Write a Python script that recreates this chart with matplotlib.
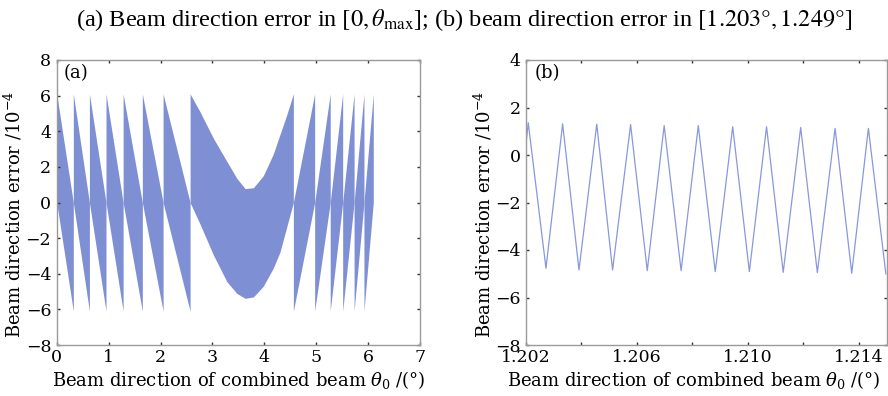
import matplotlib
matplotlib.use("Agg")
import matplotlib.pyplot as plt

plt.rcParams['font.family'] = ['DejaVu Serif']
plt.rcParams['mathtext.fontset'] = 'dejavuserif'

# ---- Panel (a): envelope of the dense error band (units of 1e-4) ----
# Each group: x points, upper envelope, lower envelope
a_seg_x = [
    [0.0, 0.32], [0.32, 0.63], [0.63, 0.95], [0.95, 1.28], [1.28, 1.65],
    [1.65, 2.05], [2.05, 2.57],
    [2.57, 2.76, 3.02, 3.28, 3.47, 3.63, 3.79, 3.98, 4.17, 4.30, 4.43, 4.56],
    [4.56, 4.97], [4.97, 5.27], [5.27, 5.51], [5.51, 5.73], [5.73, 5.92], [5.92, 6.10],
]
a_seg_upper = [
    [6.1, 0.0], [6.1, 0.0], [6.1, 0.0], [6.1, 0.0], [6.1, 0.0],
    [6.1, 0.0], [6.1, 0.0],
    [6.1, 5.1, 3.6, 2.3, 1.36, 0.78, 0.83, 1.5, 2.7, 3.8, 4.9, 6.1],
    [0.0, 6.1], [0.0, 6.1], [0.0, 6.1], [0.0, 6.1], [0.0, 6.1], [0.0, 6.1],
]
a_seg_lower = [
    [0.0, -6.1], [0.0, -6.1], [0.0, -6.1], [0.0, -6.1], [0.0, -6.1],
    [0.0, -6.1], [0.0, -6.1],
    [0.0, -1.2, -2.95, -4.45, -5.1, -5.38, -5.3, -4.7, -3.7, -2.8, -1.4, 0.0],
    [-6.1, 0.0], [-6.1, 0.0], [-6.1, 0.0], [-6.1, 0.0], [-6.1, 0.0], [-6.1, 0.0],
]

# ---- Panel (b): zig-zag error (units of 1e-4) ----
b_x = [1.20200, 1.20208, 1.20272, 1.20332, 1.20391, 1.20455, 1.20512, 1.20577,
       1.20637, 1.20698, 1.20759, 1.20821, 1.20882, 1.20945, 1.21005, 1.21067,
       1.21127, 1.21190, 1.21250, 1.21314, 1.21374, 1.21434, 1.21497]
b_y = [0.45, 1.36, -4.77, 1.31, -4.84, 1.30, -4.84, 1.28, -4.87, 1.24, -4.87,
       1.24, -4.91, 1.19, -4.91, 1.19, -4.94, 1.16, -4.95, 1.12, -4.98, 1.12, -5.01]

a_xticks = [0, 1, 2, 3, 4, 5, 6, 7]
a_yticks = [-8, -6, -4, -2, 0, 2, 4, 6, 8]
b_xticks = [1.202, 1.204, 1.206, 1.208, 1.210, 1.212, 1.214]
b_xticklabels = ['1.202', '', '1.206', '', '1.210', '', '1.214']
b_yticks = [-8, -6, -4, -2, 0, 2, 4]

title = (r"(a) Beam direction error in $\left[0,\theta_{\rm max}\right]$; "
         r"(b) beam direction error in $\left[1.203°,1.249°\right]$")
ylab = r"Beam direction error /10$^{-4}$"
xlab = r"Beam direction of combined beam $\theta_0$ /(°)"

fig = plt.figure(figsize=(8.88, 3.96), dpi=100)
W, H = 888, 396
axa = fig.add_axes([56.7 / W, 1 - 345 / H, (420 - 56.7) / W, (345 - 60) / H])
axb = fig.add_axes([526 / W, 1 - 345 / H, (886.7 - 526) / W, (345 - 60) / H])

band_col = '#7f8fd4'
for xs, up, lo in zip(a_seg_x, a_seg_upper, a_seg_lower):
    axa.fill_between(xs, lo, up, color=band_col, lw=0)

axb.plot(b_x, b_y, color='#8898de', lw=0.9)

spine_col = '#9a9a9a'
for ax in (axa, axb):
    for s in ax.spines.values():
        s.set_color(spine_col)
        s.set_linewidth(1.0)
    ax.tick_params(direction='in', length=2.5, width=1.0, color='#333333',
                   top=True, right=True, labelsize=12.5)
    ax.tick_params(axis='x', pad=3)
    ax.tick_params(axis='y', pad=4)
    ax.set_ylabel(ylab, fontsize=13)
    ax.set_xlabel(xlab, fontsize=13)

axa.set_xlim(0, 7)
axa.set_ylim(-8, 8)
axa.set_xticks(a_xticks)
axa.set_yticks(a_yticks)
axa.yaxis.set_label_coords(-0.09, 0.46)
axa.xaxis.set_label_coords(0.5, -0.085)
axa.text(0.02, 0.985, '(a)', transform=axa.transAxes, fontsize=13, va='top', ha='left')

axb.set_xlim(1.202, 1.215)
axb.set_ylim(-8, 4)
axb.set_xticks(b_xticks)
axb.set_xticklabels(b_xticklabels)
axb.set_yticks(b_yticks)
axb.yaxis.set_label_coords(-0.088, 0.46)
axb.xaxis.set_label_coords(0.465, -0.085)
axb.text(0.025, 0.985, '(b)', transform=axb.transAxes, fontsize=13, va='top', ha='left')

fig.text(464 / W, 1 - 20 / H, title, ha='center', va='center', fontsize=17.5,
         family='Liberation Serif', math_fontfamily='stix')

fig.savefig('out.png', dpi=100)
